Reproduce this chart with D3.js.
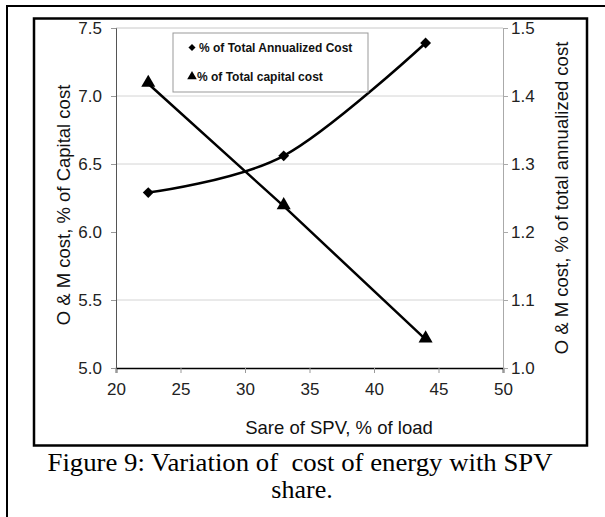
<!DOCTYPE html>
<html>
<head>
<meta charset="utf-8">
<script src="https://cdn.jsdelivr.net/npm/d3@7"></script>
<style>
  body { margin: 0; background: #fff; }
  svg { display: block; }
  .tick text { font-family: "Liberation Sans", Arial, sans-serif; font-size: 17px; fill: #222; }
</style>
</head>
<body>
<svg id="chart" width="605" height="517"></svg>
<script>
// data
var spvShare = [22.5, 33, 44];
var annualizedCost = [1.258, 1.312, 1.478];   // right axis, diamonds
var capitalCost = [7.09, 6.19, 5.21];          // left axis, triangles
var xTicks = [20, 25, 30, 35, 40, 45, 50];
var leftTicks = [5.0, 5.5, 6.0, 6.5, 7.0, 7.5];
var rightTicks = [1.0, 1.1, 1.2, 1.3, 1.4, 1.5];
var gridValues = [5.5, 6.5, 7.0];
var legendLabels = ["% of Total Annualized Cost", "% of Total capital cost"];

var svg = d3.select("#chart");
var sans = '"Liberation Sans", Arial, sans-serif';
var serif = '"Liberation Serif", "Times New Roman", serif';

var plot = {left: 116, right: 503, top: 28, bottom: 368};

var x = d3.scaleLinear().domain([20, 50]).range([plot.left, plot.right]);
var yLeft = d3.scaleLinear().domain([5, 7.5]).range([plot.bottom, plot.top]);
var yRight = d3.scaleLinear().domain([1, 1.5]).range([plot.bottom, plot.top]);

// outer page frame and inner chart frame
svg.append("rect")
    .attr("x", 7).attr("y", 6).attr("width", 620).attr("height", 530)
    .attr("fill", "none").attr("stroke", "#000").attr("stroke-width", 2);

svg.append("rect")
    .attr("x", 34).attr("y", 18.5).attr("width", 553).attr("height", 427)
    .attr("fill", "#fff").attr("stroke", "#000").attr("stroke-width", 2.5);

// gridlines
svg.append("g")
    .selectAll("line")
    .data(gridValues)
    .enter().append("line")
    .attr("x1", plot.left).attr("x2", plot.right)
    .attr("y1", function(d) { return yLeft(d); })
    .attr("y2", function(d) { return yLeft(d); })
    .attr("stroke", "#d4d4d4").attr("stroke-width", 1);

// top border of plot
svg.append("line")
    .attr("x1", plot.left).attr("x2", plot.right)
    .attr("y1", plot.top).attr("y2", plot.top)
    .attr("stroke", "#c8c8c8");

// axes
var xAxis = svg.append("g")
    .attr("transform", "translate(0," + plot.bottom + ")")
    .call(d3.axisBottom(x).tickValues(xTicks).tickSize(5).tickPadding(10).tickFormat(d3.format("d")));
xAxis.select(".domain").attr("stroke", "#000").attr("stroke-width", 1.6);
xAxis.selectAll(".tick line").attr("stroke", "#999");

var leftAxis = svg.append("g")
    .attr("transform", "translate(" + plot.left + ",0)")
    .call(d3.axisLeft(yLeft).tickValues(leftTicks).tickSize(5).tickPadding(9).tickFormat(d3.format(".1f")));
leftAxis.select(".domain").attr("stroke", "#555");
leftAxis.selectAll(".tick line").attr("stroke", "#999");

var rightAxis = svg.append("g")
    .attr("transform", "translate(" + plot.right + ",0)")
    .call(d3.axisRight(yRight).tickValues(rightTicks).tickSize(5).tickPadding(3).tickFormat(d3.format(".1f")));
rightAxis.select(".domain").attr("stroke", "#aaa");
rightAxis.selectAll(".tick line").attr("stroke", "#aaa");

// series
var annualPts = spvShare.map(function(d, i) { return [x(d), yRight(annualizedCost[i])]; });
var capitalPts = spvShare.map(function(d, i) { return [x(d), yLeft(capitalCost[i])]; });

svg.append("path")
    .attr("d", d3.line().curve(d3.curveCardinal.tension(0))(annualPts))
    .attr("fill", "none").attr("stroke", "#000").attr("stroke-width", 2.5);

svg.append("path")
    .attr("d", d3.line()(capitalPts))
    .attr("fill", "none").attr("stroke", "#000").attr("stroke-width", 2.5);

var diamond = d3.symbol().type(d3.symbolDiamond2).size(75);
var triangle = d3.symbol().type(d3.symbolTriangle).size(85);

svg.append("g").selectAll("path")
    .data(annualPts)
    .enter().append("path")
    .attr("d", diamond)
    .attr("transform", function(d) { return "translate(" + d[0] + "," + d[1] + ")"; })
    .attr("fill", "#000");

svg.append("g").selectAll("path")
    .data(capitalPts)
    .enter().append("path")
    .attr("d", triangle)
    .attr("transform", function(d) { return "translate(" + d[0] + "," + (d[1] - 1) + ")"; })
    .attr("fill", "#000");

// legend
var legend = svg.append("g");
legend.append("rect")
    .attr("x", 173).attr("y", 33).attr("width", 195).attr("height", 59)
    .attr("fill", "#fff").attr("stroke", "#999");

legend.append("path")
    .attr("d", d3.symbol().type(d3.symbolDiamond2).size(32))
    .attr("transform", "translate(192,47.5)");
legend.append("path")
    .attr("d", d3.symbol().type(d3.symbolTriangle).size(40))
    .attr("transform", "translate(192,76.5)");

legend.selectAll("text")
    .data(legendLabels)
    .enter().append("text")
    .attr("x", function(d, i) { return i === 0 ? 199 : 197; })
    .attr("y", function(d, i) { return 52 + i * 29; })
    .attr("font-family", sans).attr("font-size", 12).attr("font-weight", "bold")
    .attr("fill", "#111")
    .text(function(d) { return d; });

// axis titles
svg.append("text")
    .attr("transform", "translate(63," + (((plot.top + plot.bottom) / 2) + 7) + ") rotate(-90)")
    .attr("text-anchor", "middle").attr("dominant-baseline", "central")
    .attr("font-family", sans).attr("font-size", 18.5).attr("fill", "#111")
    .text("O & M cost, % of Capital cost");

svg.append("text")
    .attr("transform", "translate(561," + (((plot.top + plot.bottom) / 2) + 0) + ") rotate(-90)")
    .attr("text-anchor", "middle").attr("dominant-baseline", "central")
    .attr("font-family", sans).attr("font-size", 18.5).attr("fill", "#111")
    .text("O & M cost, % of total annualized cost");

svg.append("text")
    .attr("x", 339).attr("y", 427)
    .attr("text-anchor", "middle").attr("dominant-baseline", "central")
    .attr("font-family", sans).attr("font-size", 18.5).attr("fill", "#111")
    .text("Sare of SPV, % of load");

// caption
svg.append("text")
    .attr("x", 300).attr("y", 471)
    .attr("text-anchor", "middle")
    .attr("font-family", serif).attr("font-size", 26).attr("fill", "#000")
    .attr("textLength", 505).attr("lengthAdjust", "spacingAndGlyphs")
    .text("Figure 9: Variation of \u00a0cost of energy with SPV");

svg.append("text")
    .attr("x", 302).attr("y", 498)
    .attr("text-anchor", "middle")
    .attr("font-family", serif).attr("font-size", 26).attr("fill", "#000")
    .text("share.");
</script>
</body>
</html>
